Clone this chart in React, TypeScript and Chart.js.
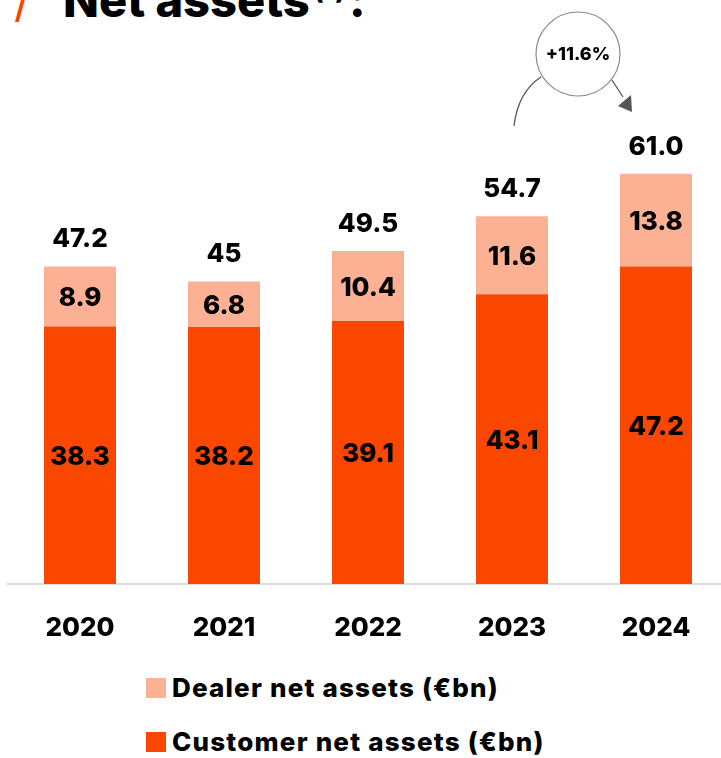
import React, { useEffect, useRef } from "react";
import { Chart, registerables } from "chart.js";

Chart.register(...registerables);

const years = ["2020", "2021", "2022", "2023", "2024"];
const customerNetAssets = [38.3, 38.2, 39.1, 43.1, 47.2];
const dealerNetAssets = [8.9, 6.8, 10.4, 11.6, 13.8];
const totalLabels = ["47.2", "45", "49.5", "54.7", "61.0"];
const growthLabel = "+11.6%";

const CUSTOMER = "#F94700";
const DEALER = "#FDB194";
const FONT = "Inter, Roboto, sans-serif";

const labelPlugin = {
  id: "valueLabels",
  afterDatasetsDraw(chart: any) {
    const ctx = chart.ctx;
    ctx.save();
    ctx.fillStyle = "#000";
    ctx.font = `800 26px ${FONT}`;
    ctx.textAlign = "center";
    ctx.textBaseline = "middle";
    chart.data.datasets.forEach((ds: any, di: number) => {
      const meta = chart.getDatasetMeta(di);
      meta.data.forEach((bar: any, i: number) => {
        const v = ds.data[i];
        const cy = (bar.y + bar.base) / 2;
        ctx.fillText(v.toFixed(1), bar.x, cy + 2);
      });
    });
    const topMeta = chart.getDatasetMeta(chart.data.datasets.length - 1);
    topMeta.data.forEach((bar: any, i: number) => {
      ctx.fillText(totalLabels[i], bar.x, bar.y - 27);
    });

    // growth annotation
    const last = topMeta.data[topMeta.data.length - 1];
    const cx = last.x - 78;
    const cyc = 54;
    ctx.strokeStyle = "#8a8a8a";
    ctx.lineWidth = 1.2;
    ctx.beginPath();
    ctx.arc(cx, cyc, 42, 0, Math.PI * 2);
    ctx.stroke();
    ctx.font = `800 18px ${FONT}`;
    ctx.fillText(growthLabel, cx, cyc + 1);

    ctx.strokeStyle = "#555";
    ctx.lineWidth = 1.3;
    ctx.beginPath();
    ctx.moveTo(cx - 64, 126);
    ctx.quadraticCurveTo(cx - 60, 92, cx - 37, 77);
    ctx.stroke();
    ctx.beginPath();
    ctx.moveTo(cx + 34, 80);
    ctx.lineTo(cx + 45, 97);
    ctx.stroke();
    ctx.fillStyle = "#555";
    ctx.beginPath();
    ctx.moveTo(cx + 40, 106);
    ctx.lineTo(cx + 53, 95);
    ctx.lineTo(cx + 54, 112);
    ctx.closePath();
    ctx.fill();
    ctx.restore();
  },
};

function App() {
  const ref = useRef<HTMLCanvasElement | null>(null);
  useEffect(() => {
    if (!ref.current) return;
    const chart = new Chart(ref.current, {
      type: "bar",
      data: {
        labels: years,
        datasets: [
          {
            label: "Customer net assets (€bn)",
            data: customerNetAssets,
            backgroundColor: CUSTOMER,
            barPercentage: 0.5,
            categoryPercentage: 1,
          },
          {
            label: "Dealer net assets (€bn)",
            data: dealerNetAssets,
            backgroundColor: DEALER,
            barPercentage: 0.5,
            categoryPercentage: 1,
          },
        ],
      },
      options: {
        animation: false,
        responsive: false,
        maintainAspectRatio: false,
        layout: { padding: { left: 8, right: 8, top: 46, bottom: 0 } },
        plugins: { legend: { display: false }, tooltip: { enabled: false } },
        scales: {
          x: {
            stacked: true,
            grid: { display: false, drawTicks: false },
            border: { display: true, color: "#d9d9d9", width: 2 },
            ticks: {
              color: "#000",
              font: { family: FONT, size: 26, weight: "800" },
              padding: 29,
            },
            afterFit: (s: any) => {
              s.height = 76;
            },
          },
          y: { stacked: true, display: false, min: 0, max: 80 },
        },
      },
      plugins: [labelPlugin],
    });
    return () => chart.destroy();
  }, []);

  const legendRow = (color: string, text: string, top: number) => (
    <div
      style={{
        position: "absolute",
        left: 146,
        top,
        display: "flex",
        alignItems: "center",
        gap: 6,
        fontFamily: FONT,
        fontWeight: 800,
        fontSize: 26,
        lineHeight: "30px",
        letterSpacing: "1.2px",
        color: "#000",
        whiteSpace: "nowrap",
      }}
    >
      <span style={{ display: "inline-block", width: 20, height: 20, background: color }} />
      <span>{text}</span>
    </div>
  );

  return (
    <div
      style={{
        position: "absolute",
        left: 0,
        top: 0,
        width: 721,
        height: 758,
        overflow: "hidden",
        background: "#fff",
      }}
    >
      <div
        style={{
          position: "absolute",
          left: 14,
          top: -36,
          fontFamily: FONT,
          fontWeight: 800,
          fontSize: 47,
          lineHeight: "54px",
          color: "#000",
          whiteSpace: "nowrap",
        }}
      >
        <span style={{ color: CUSTOMER, fontWeight: 400 }}>/</span>
        <span style={{ marginLeft: 32 }}>Net assets</span>
        <sup style={{ fontSize: 26, marginLeft: 4 }}>(1)</sup>
        <span style={{ marginLeft: 4 }}>:</span>
      </div>
      <canvas
        ref={ref}
        width={736}
        height={660}
        style={{ position: "absolute", left: 0, top: 0, width: 736, height: 660 }}
      />
      {legendRow(DEALER, "Dealer net assets (€bn)", 673)}
      {legendRow(CUSTOMER, "Customer net assets (€bn)", 727)}
    </div>
  );
}

export default App;
